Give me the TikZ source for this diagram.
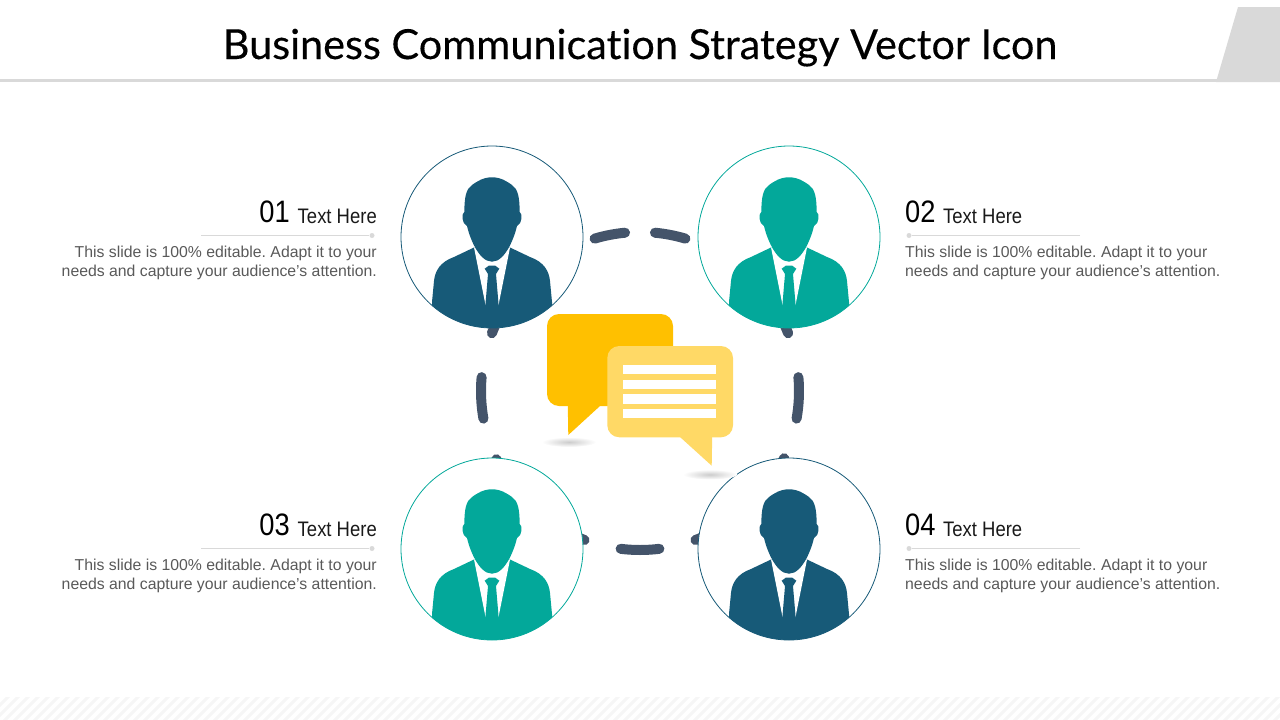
\documentclass[tikz,border=0pt]{standalone}
\usepackage{fontspec}
\setmainfont{Liberation Sans}
\newfontfamily\titlefont[RawFeature={-liga},FakeBold=.3]{Lato}
\newfontfamily\numfont[FakeStretch=.88]{Liberation Sans}
\definecolor{navy}{RGB}{23,90,120}
\definecolor{teal}{RGB}{3,168,154}
\definecolor{slate}{RGB}{68,84,106}
\definecolor{amber}{RGB}{255,192,0}
\definecolor{sand}{RGB}{255,217,102}
\definecolor{rulegray}{RGB}{217,217,217}
\definecolor{bodygray}{RGB}{89,89,89}
\definecolor{hatch}{RGB}{246,246,246}
\frenchspacing
\begin{document}
\begin{tikzpicture}[x=1pt, y=-1pt,
    portrait/.style={circle, minimum size=182pt, inner sep=0pt, fill=white, line width=.8pt},
    linkdash/.style={draw=slate, line width=10pt, line cap=round},
    itemrule/.style={draw=rulegray, line width=1pt},
    itemdot/.style={circle, fill=rulegray, minimum size=5pt, inner sep=0pt},
    itemnum/.style={font=\numfont\fontsize{31}{31}\selectfont, text=black, inner sep=0pt},
    itemhead/.style={font=\numfont\fontsize{21}{21}\selectfont, text=black!90, inner sep=0pt},
    itembody/.style={font=\fontsize{15.8}{19}\selectfont, text=bodygray, inner sep=0pt},
    pics/person/.style={code={
        \begin{scope}
        \clip (0,0) circle (91);
        % body
        \fill[#1] (-18,10.5) -- (-38,20) .. controls (-52,25) and (-57,34) .. (-58,44)
            -- (-60,65) -- (-60,100) -- (60,100) -- (60,65) -- (58,44)
            .. controls (57,34) and (52,25) .. (38,20) -- (18,10.5) -- cycle;
        \end{scope}
        % shirt
        \fill[white] (-18,10.5) -- (-6.5,68) -- (6.5,68) -- (18,10.5) -- cycle;
        % tie
        \fill[#1] (-7.3,31.7) -- (-3,28.5) -- (3,28.5) -- (7.3,31.7) -- (4,37) -- (6.7,69) -- (-6.7,69) -- (-4,37) -- cycle;
        % head
        \fill[#1] (0,-59.7) .. controls (-9,-59.7) and (-15,-55.5) .. (-20,-52)
            .. controls (-26,-48) and (-27.5,-40) .. (-27.7,-25)
            .. controls (-30.5,-24) and (-30.5,-13) .. (-25,-11)
            .. controls (-23,-2) and (-14,24.7) .. (0,24.7)
            .. controls (14,24.7) and (23,-2) .. (25,-11)
            .. controls (30.5,-13) and (30.5,-24) .. (27.7,-25)
            .. controls (27.5,-40) and (26,-48) .. (20,-52)
            .. controls (15,-55.5) and (9,-59.7) .. (0,-59.7) -- cycle;
    }}]
\useasboundingbox (0,0) rectangle (1280,720);
% header
\fill[rulegray] (0,79) rectangle (1280,82);
\fill[rulegray] (1238,7) -- (1280,7) -- (1280,82) -- (1216,82) -- cycle;
\node[font=\titlefont\fontsize{41.4}{41.4}\selectfont, inner sep=0pt, anchor=base] (title) at (640,59) {Business Communication Strategy Vector Icon};
% hatch band at the foot
\begin{scope}
    \clip (0,697) rectangle (1280,720);
    \foreach \x in {-30,-20,...,1290} {
        \draw[hatch, line width=3pt] (\x,725) -- (\x+30,695);
    };
\end{scope}
% dashed ring
\coordinate (hub) at (640,391);
\foreach \a/\b in {253.4/264.6, 275.4/286.6, 170/185, 355/370, 83/97, 110.4/154.6, 25/69.6, 201.3/246, 294/338.7} {
    \draw[linkdash] ([shift={(\a:159)}]hub) arc[start angle=\a, end angle=\b, radius=159];
};
% people
\foreach \n/\x/\y/\c in {1/492/237/navy, 2/789/237/teal, 3/492/549/teal, 4/789/549/navy} {
    \node[portrait, draw=\c] (p\n) at (\x,\y) {};
    \pic at (p\n.center) {person=\c};
};
% speech bubbles
\fill[amber, rounded corners=12pt] (547,314) rectangle (673,406);
\fill[amber] (567.7,400) -- (568.3,435) -- (600,406) -- (600,400) -- cycle;
\shade[inner color=black!20, outer color=white] (569,442) ellipse (27 and 5);
\shade[inner color=black!20, outer color=white] (710,474.5) ellipse (27 and 5);
\fill[sand, rounded corners=12pt] (607.3,346) rectangle (733,437.3);
\fill[sand] (680,437) -- (711.7,465.7) -- (712.3,430) -- (680,430) -- cycle;
\foreach \y in {365,379.7,394.3,409} {
    \fill[white] (623,\y) rectangle (716,\y+9.3);
};
% left items
\foreach \n/\y in {1/0, 3/313} {
    \node[itemhead, anchor=base east] (head\n) at (377,223+\y) {Text Here};
    \node[itemnum, anchor=base east] (num\n) at (290,222.5+\y) {0\n};
    \coordinate (start\n) at (201,235.5+\y);
    \node[itemdot] (dot\n) at (372,235.5+\y) {};
    \draw[itemrule] (start\n) -- (dot\n);
    \node[itembody, anchor=north east, align=right] (body\n) at (377,245.5+\y) {This slide is 100\% editable. Adapt it to your\\needs and capture your audience’s attention.};
};
% right items
\foreach \n/\y in {2/0, 4/313} {
    \node[itemnum, anchor=base west] (num\n) at (905,222.5+\y) {0\n};
    \node[itemhead, anchor=base west] (head\n) at (943,223+\y) {Text Here};
    \coordinate (start\n) at (1080,235.5+\y);
    \node[itemdot] (dot\n) at (909,235.5+\y) {};
    \draw[itemrule] (start\n) -- (dot\n);
    \node[itembody, anchor=north west, align=left] (body\n) at (905,245.5+\y) {This slide is 100\% editable. Adapt it to your\\needs and capture your audience’s attention.};
};
\end{tikzpicture}
\end{document}
